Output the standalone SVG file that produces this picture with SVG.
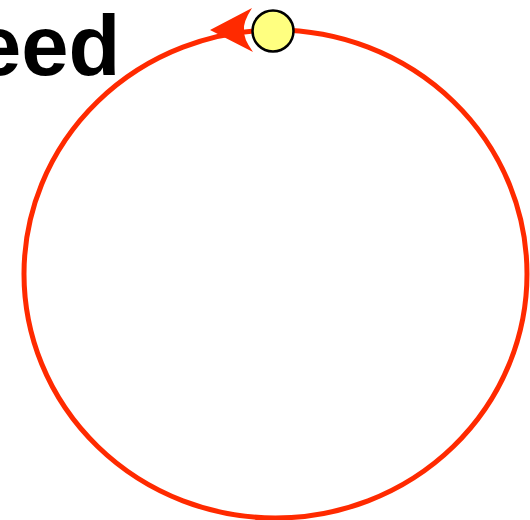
<svg xmlns="http://www.w3.org/2000/svg" width="530" height="520" viewBox="0 0 530 520">
<style>
.lbl{font-family:"Liberation Sans",Arial,sans-serif;font-weight:bold;font-size:85px;fill:#000}
.edge{fill:none;stroke:#FF2A00;stroke-width:5}
.node{fill:#FFFF80;stroke:#000;stroke-width:2.5}
</style>
<g id="title"><text class="lbl" x="-26" y="75">eed</text></g>
<g id="connectors">
<ellipse class="edge" cx="275.5" cy="274" rx="251.5" ry="244"/>
<path d="M210,30 L252,8 Q243,22 244,30 Q243,38 253,52 Z" fill="#FF2A00"/>
</g>
<g id="node"><circle class="node" cx="273" cy="31" r="20.5"/></g>
</svg>
